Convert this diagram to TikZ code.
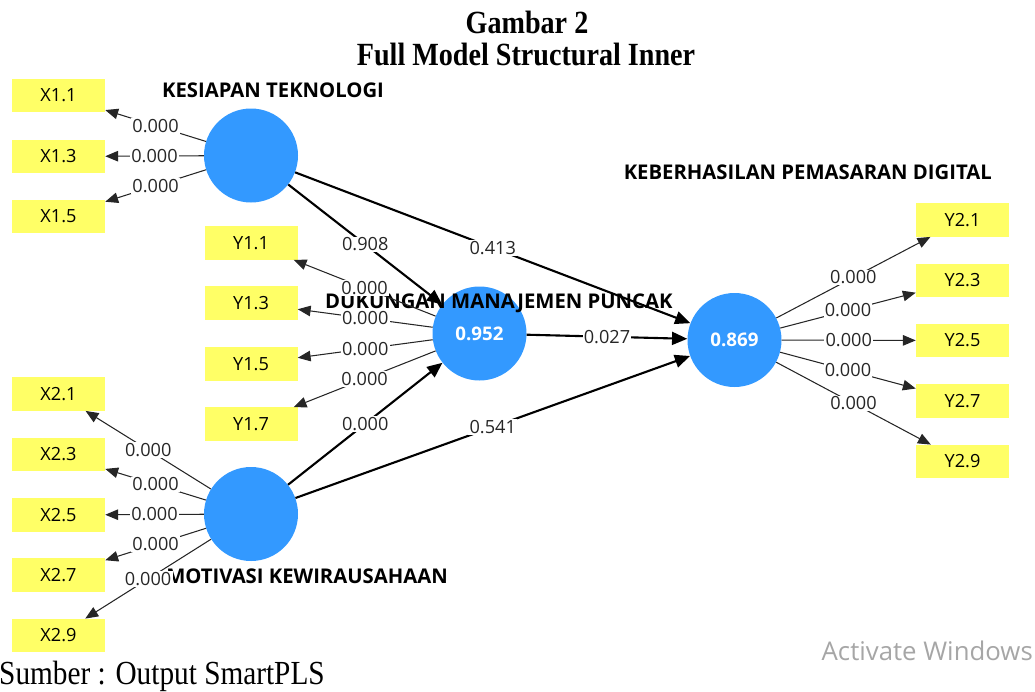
\documentclass[tikz,border=0pt]{standalone}
\usepackage{fontspec}
\setmainfont{Liberation Serif}
\setsansfont{Open Sans}
\usetikzlibrary{arrows.meta}
\definecolor{lvblue}{RGB}{51,153,255}
\definecolor{mvyellow}{RGB}{255,255,102}
\begin{document}
\begin{tikzpicture}[
    x=0.03cm, y=-0.03cm,
    lv/.style={circle, fill=lvblue, minimum size=2.82cm, inner sep=0pt, text=white,
      font=\sffamily\bfseries\fontsize{16}{18}\selectfont},
    mv/.style={fill=mvyellow, minimum width=2.79cm, minimum height=1.0cm, inner sep=0pt,
      font=\sffamily\fontsize{15.5}{18}\selectfont},
    lvname/.style={inner sep=0pt, font=\sffamily\bfseries\fontsize{17.3}{20}\selectfont},
    val/.style={fill=white, inner sep=1pt, text=black!85, font=\sffamily\fontsize{15.5}{18}\selectfont},
    outer/.style={draw=black!85, line width=0.9pt, -{Triangle[length=11pt,width=9pt]}},
    inner/.style={draw=black, line width=1.8pt, -{Triangle[length=13pt,width=11pt]}},
  ]
    \useasboundingbox (0,0) rectangle (1035,691);
    % Titles and source line
    \node[anchor=base, font=\bfseries\fontsize{24}{28}\selectfont] (title) at (527,33) {\scalebox{1}[1.15]{Gambar 2}};
    \node[anchor=base, font=\bfseries\fontsize{24}{28}\selectfont] (subtitle) at (526,65) {\scalebox{1}[1.15]{Full Model Structural Inner}};
    \node[anchor=base west, inner sep=0pt, font=\fontsize{25}{29}\selectfont] (source) at (-1,684) {\scalebox{1}[1.15]{Sumber : Output SmartPLS}};
    \node[anchor=base east, inner sep=0pt, text=black!35, font=\sffamily\fontsize{22}{26}\selectfont] (watermark) at (1033,660) {Activate Windows};
    % Latent variables
    \node[lv] (kt)  at (251,155.5) {};
    \node[lv] (mk)  at (251,514) {};
    \node[lv] (dmp) at (479.5,333.5) {0.952};
    \node[lv] (kpd) at (734.5,340) {0.869};
    % Indicators
    \foreach \id/\lb/\y in {x11/X1.1/95.5, x13/X1.3/156.5, x15/X1.5/216.5,
      x21/X2.1/394, x23/X2.3/454.5, x25/X2.5/515, x27/X2.7/575, x29/X2.9/635.5}
    { \node[mv] (\id) at (58.5,\y) {\lb}; }
    \foreach \id/\lb/\y in {y11/Y1.1/243, y13/Y1.3/303, y15/Y1.5/364, y17/Y1.7/424}
    { \node[mv] (\id) at (251,\y) {\lb}; }
    \foreach \id/\lb/\y in {y21/Y2.1/220, y23/Y2.3/280.5, y25/Y2.5/340.5, y27/Y2.7/401, y29/Y2.9/461.5}
    { \node[mv] (\id) at (962.5,\y) {\lb}; }
    % Construct names
    \node[lvname] (ktname) at (273,90) {KESIAPAN TEKNOLOGI};
    \node[lvname, anchor=east] (kpdname) at (992,172.5) {KEBERHASILAN PEMASARAN DIGITAL};
    \node[lvname, anchor=west] (dmpname) at (325,303) {DUKUNGAN MANAJEMEN PUNCAK};
    \node[lvname, anchor=east] (mkname) at (448,576) {MOTIVASI KEWIRAUSAHAAN};
    % Outer loadings
    \foreach \id in {x11,x13,x15}
    { \draw[outer] (kt) -- node[val] {0.000} (\id); }
    \foreach \id in {x21,x23,x25,x27,x29}
    { \draw[outer] (mk) -- node[val] {0.000} (\id); }
    \foreach \id in {y11,y13,y15,y17}
    { \draw[outer] (dmp) -- node[val] {0.000} (\id); }
    \foreach \id in {y21,y23,y25,y27,y29}
    { \draw[outer] (kpd) -- node[val] {0.000} (\id); }
    % Inner paths
    \foreach \a/\b/\v in {kt/dmp/0.908, kt/kpd/0.413, dmp/kpd/0.027, mk/dmp/0.000, mk/kpd/0.541}
    { \draw[inner] (\a) -- node[val] {\v} (\b); }
  \end{tikzpicture}
\end{document}
